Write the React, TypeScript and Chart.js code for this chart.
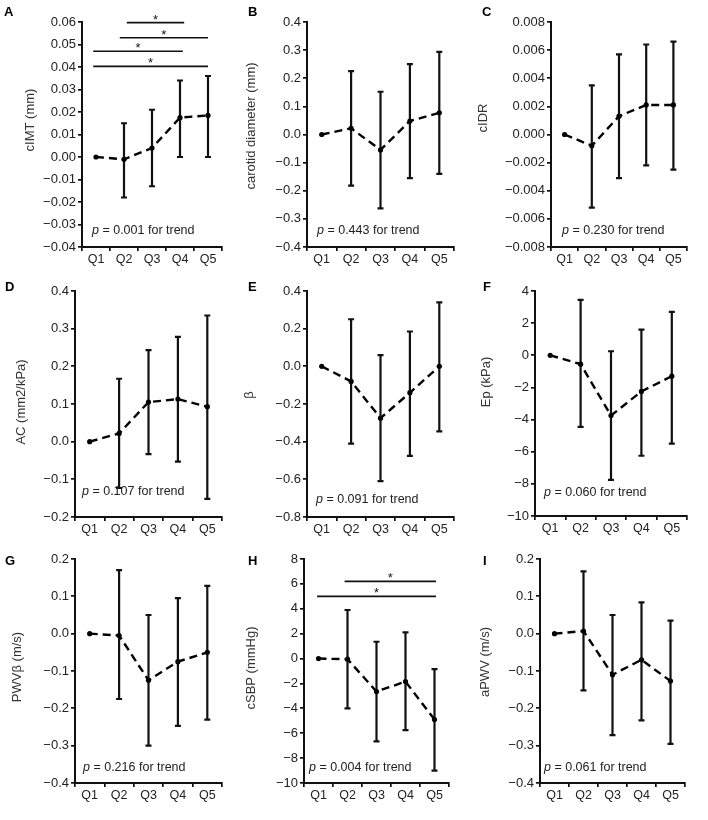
import React, { useEffect, useRef } from 'react';
import Chart from 'chart.js/auto';

const FONT = "'Liberation Sans', Arial, sans-serif";
const INK = '#111';
const TEXT = '#222';

const quintiles = ['Q1', 'Q2', 'Q3', 'Q4', 'Q5'];

// A - cIMT (mm)
const meanA = [0, -0.001, 0.004, 0.0175, 0.0185];
const lowA = [null, -0.018, -0.013, 0.0, 0.0];
const highA = [null, 0.015, 0.021, 0.034, 0.036];
const rangeA = [-0.04, 0.06, 0.01];
// significance bars: [from quintile, to quintile, height]
const sigA = [[1.1, 3.15, 0.0597], [0.85, 4.0, 0.053], [-0.1, 3.1, 0.047], [-0.1, 4.0, 0.0403]];

// B - carotid diameter (mm)
const meanB = [0, 0.022, -0.055, 0.048, 0.077];
const lowB = [null, -0.182, -0.263, -0.155, -0.14];
const highB = [null, 0.225, 0.152, 0.25, 0.294];
const rangeB = [-0.4, 0.4, 0.1];

// C - cIDR
const meanC = [0, -0.0008, 0.0013, 0.0021, 0.0021];
const lowC = [null, -0.0052, -0.0031, -0.0022, -0.0025];
const highC = [null, 0.0035, 0.0057, 0.0064, 0.0066];
const rangeC = [-0.008, 0.008, 0.002];

// D - AC (mm2/kPa)
const meanD = [0, 0.022, 0.105, 0.113, 0.093];
const lowD = [null, -0.123, -0.033, -0.053, -0.152];
const highD = [null, 0.167, 0.243, 0.278, 0.335];
const rangeD = [-0.2, 0.4, 0.1];

// E - beta
const meanE = [0, -0.08, -0.275, -0.14, 0.0];
const lowE = [null, -0.41, -0.61, -0.475, -0.345];
const highE = [null, 0.25, 0.06, 0.185, 0.34];
const rangeE = [-0.8, 0.4, 0.2];

// F - Ep (kPa)
const meanF = [0, -0.55, -3.75, -2.25, -1.3];
const lowF = [null, -4.45, -7.75, -6.25, -5.5];
const highF = [null, 3.45, 0.25, 1.6, 2.7];
const rangeF = [-10, 4, 2];

// G - PWV beta (m/s)
const meanG = [0, -0.005, -0.125, -0.075, -0.05];
const lowG = [null, -0.175, -0.3, -0.247, -0.23];
const highG = [null, 0.17, 0.05, 0.095, 0.128];
const rangeG = [-0.4, 0.2, 0.1];

// H - cSBP (mmHg)
const meanH = [0, -0.05, -2.65, -1.85, -4.9];
const lowH = [null, -4.0, -6.65, -5.75, -9.0];
const highH = [null, 3.9, 1.35, 2.1, -0.85];
const rangeH = [-10, 8, 2];
const sigH = [[0.9, 4.05, 6.2], [-0.05, 4.05, 5.0]];

// I - aPWV (m/s)
const meanI = [0, 0.007, -0.11, -0.07, -0.127];
const lowI = [null, -0.152, -0.272, -0.232, -0.295];
const highI = [null, 0.167, 0.05, 0.084, 0.035];
const rangeI = [-0.4, 0.2, 0.1];

const pValues = ['0.001', '0.443', '0.230', '0.107', '0.091', '0.060', '0.216', '0.004', '0.061'];

interface PanelCfg {
  letter: string;
  title: string;
  mean: number[];
  low: (number | null)[];
  high: (number | null)[];
  range: number[];
  decimals: number;
  p: string;
  sig?: number[][];
  box: { x: number; y: number; w: number; h: number };
  area: { left: number; top: number; right: number; bottom: number };
  titlePos: [number, number];
  letterPos: [number, number];
  pPos: [number, number];
}

const panels: PanelCfg[] = [
  { letter: 'A', title: 'cIMT (mm)', mean: meanA, low: lowA, high: highA, range: rangeA, decimals: 2, p: pValues[0], sig: sigA,
    box: { x: 0, y: 0, w: 236, h: 270 }, area: { left: 82, top: 22, right: 222, bottom: 247 },
    titlePos: [30, 120], letterPos: [4, 12], pPos: [10, 16] },
  { letter: 'B', title: 'carotid diameter (mm)', mean: meanB, low: lowB, high: highB, range: rangeB, decimals: 1, p: pValues[1],
    box: { x: 236, y: 0, w: 234, h: 270 }, area: { left: 71, top: 22, right: 218, bottom: 247 },
    titlePos: [15, 126], letterPos: [12, 12], pPos: [10, 16] },
  { letter: 'C', title: 'cIDR', mean: meanC, low: lowC, high: highC, range: rangeC, decimals: 3, p: pValues[2],
    box: { x: 470, y: 0, w: 238, h: 270 }, area: { left: 81, top: 22, right: 217, bottom: 247 },
    titlePos: [13, 118], letterPos: [12, 12], pPos: [11, 16] },
  { letter: 'D', title: 'AC (mm2/kPa)', mean: meanD, low: lowD, high: highD, range: rangeD, decimals: 1, p: pValues[3],
    box: { x: 0, y: 270, w: 236, h: 275 }, area: { left: 75, top: 21, right: 222, bottom: 247 },
    titlePos: [21, 132], letterPos: [5, 17], pPos: [7, 25] },
  { letter: 'E', title: 'β', mean: meanE, low: lowE, high: highE, range: rangeE, decimals: 1, p: pValues[4],
    box: { x: 236, y: 270, w: 234, h: 275 }, area: { left: 71, top: 21, right: 218, bottom: 247 },
    titlePos: [13, 125], letterPos: [12, 17], pPos: [9, 17] },
  { letter: 'F', title: 'Ep (kPa)', mean: meanF, low: lowF, high: highF, range: rangeF, decimals: 0, p: pValues[5],
    box: { x: 470, y: 270, w: 238, h: 275 }, area: { left: 65, top: 21, right: 217, bottom: 246 },
    titlePos: [16, 112], letterPos: [13, 17], pPos: [9, 23] },
  { letter: 'G', title: 'PWVβ (m/s)', mean: meanG, low: lowG, high: highG, range: rangeG, decimals: 1, p: pValues[6],
    box: { x: 0, y: 545, w: 236, h: 275 }, area: { left: 75, top: 14, right: 222, bottom: 238 },
    titlePos: [17, 122], letterPos: [5, 16], pPos: [8, 15] },
  { letter: 'H', title: 'cSBP (mmHg)', mean: meanH, low: lowH, high: highH, range: rangeH, decimals: 0, p: pValues[7], sig: sigH,
    box: { x: 236, y: 545, w: 234, h: 275 }, area: { left: 68, top: 14, right: 213, bottom: 238 },
    titlePos: [15, 123], letterPos: [12, 16], pPos: [5, 15] },
  { letter: 'I', title: 'aPWV (m/s)', mean: meanI, low: lowI, high: highI, range: rangeI, decimals: 1, p: pValues[8],
    box: { x: 470, y: 545, w: 238, h: 275 }, area: { left: 70, top: 14, right: 215, bottom: 238 },
    titlePos: [15, 117], letterPos: [13, 16], pPos: [4, 15] },
];

const fmt = (v: number, d: number) => (v < -1e-9 ? '\u2212' : '') + Math.abs(v).toFixed(d);

const XAXIS_H = 22;

const Panel: React.FC<{ cfg: PanelCfg }> = ({ cfg }) => {
  const canvasRef = useRef<HTMLCanvasElement>(null);

  useEffect(() => {
    if (!canvasRef.current) return;
    const { box, area } = cfg;

    // error bars, significance bars, labels
    const decor = {
      id: 'decor',
      beforeDatasetsDraw(chart: any) {
        const ctx = chart.ctx;
        const xs = chart.scales.x;
        const ys = chart.scales.y;
        ctx.save();
        ctx.strokeStyle = INK;
        ctx.lineWidth = 2.2;
        cfg.mean.forEach((_m, i) => {
          const lo = cfg.low[i];
          const hi = cfg.high[i];
          if (lo == null || hi == null) return;
          const x = xs.getPixelForValue(i);
          const y1 = ys.getPixelForValue(lo);
          const y2 = ys.getPixelForValue(hi);
          ctx.beginPath();
          ctx.moveTo(x, y1);
          ctx.lineTo(x, y2);
          ctx.moveTo(x - 3, y1);
          ctx.lineTo(x + 3, y1);
          ctx.moveTo(x - 3, y2);
          ctx.lineTo(x + 3, y2);
          ctx.stroke();
        });
        ctx.restore();
      },
      afterDatasetsDraw(chart: any) {
        const ctx = chart.ctx;
        const xs = chart.scales.x;
        const ys = chart.scales.y;
        const ca = chart.chartArea;
        // fractional category position, interpolated between two categories
        const x0 = xs.getPixelForValue(0);
        const step = xs.getPixelForValue(1) - x0;
        const xAt = (q: number) => x0 + q * step;
        ctx.save();
        // significance bars
        (cfg.sig || []).forEach(([a, b, v]) => {
          const x1 = xAt(a);
          const x2 = xAt(b);
          const y = ys.getPixelForValue(v);
          ctx.strokeStyle = INK;
          ctx.lineWidth = 1.7;
          ctx.beginPath();
          ctx.moveTo(x1, y);
          ctx.lineTo(x2, y);
          ctx.stroke();
          ctx.fillStyle = INK;
          ctx.font = `13px ${FONT}`;
          ctx.textAlign = 'center';
          ctx.textBaseline = 'alphabetic';
          ctx.fillText('*', (x1 + x2) / 2, y + 1);
        });
        // p for trend
        const px = ca.left + cfg.pPos[0];
        const py = ca.bottom - cfg.pPos[1];
        ctx.fillStyle = TEXT;
        ctx.textAlign = 'left';
        ctx.textBaseline = 'middle';
        ctx.font = `italic 12.5px ${FONT}`;
        ctx.fillText('p', px, py);
        const pw = ctx.measureText('p').width;
        ctx.font = `12.5px ${FONT}`;
        ctx.fillText(` = ${cfg.p} for trend`, px + pw, py);
        // y-axis title
        ctx.save();
        ctx.translate(cfg.titlePos[0], cfg.titlePos[1]);
        ctx.rotate(-Math.PI / 2);
        ctx.textAlign = 'center';
        ctx.textBaseline = 'middle';
        ctx.fillStyle = '#333';
        ctx.font = `13px ${FONT}`;
        ctx.fillText(cfg.title, 0, 0);
        ctx.restore();
        // panel letter
        ctx.fillStyle = '#000';
        ctx.font = `bold 13px ${FONT}`;
        ctx.textAlign = 'left';
        ctx.textBaseline = 'middle';
        ctx.fillText(cfg.letter, cfg.letterPos[0], cfg.letterPos[1]);
        ctx.restore();
      },
    };

    const chart = new Chart(canvasRef.current, {
      type: 'line',
      data: {
        labels: quintiles,
        datasets: [
          {
            data: cfg.mean,
            borderColor: '#000',
            borderWidth: 2.4,
            borderDash: [8, 5],
            pointRadius: 2.6,
            pointBackgroundColor: '#000',
            pointBorderWidth: 0,
            tension: 0,
          },
        ],
      },
      options: {
        animation: false,
        responsive: true,
        maintainAspectRatio: false,
        layout: {
          padding: {
            left: 0,
            top: area.top,
            right: box.w - area.right,
            bottom: box.h - area.bottom - XAXIS_H,
          },
        },
        plugins: { legend: { display: false }, tooltip: { enabled: false } },
        scales: {
          x: {
            type: 'category',
            offset: true,
            grid: { offset: true, drawOnChartArea: false, drawTicks: true, tickLength: 4, color: INK, lineWidth: 1.7 },
            border: { display: true, color: INK, width: 2 },
            ticks: { font: { family: FONT, size: 12.5 }, color: TEXT, padding: 1, maxRotation: 0, autoSkip: false },
            afterFit: (s: any) => {
              s.height = XAXIS_H;
            },
          },
          y: {
            min: cfg.range[0],
            max: cfg.range[1],
            grid: { drawOnChartArea: false, drawTicks: true, tickLength: 4, color: INK, lineWidth: 1.7 },
            border: { display: true, color: INK, width: 2 },
            ticks: {
              stepSize: cfg.range[2],
              autoSkip: false,
              font: { family: FONT, size: 13 },
              color: TEXT,
              padding: 2,
              callback: (v: any) => fmt(Number(v), cfg.decimals),
            },
            afterFit: (s: any) => {
              s.width = area.left;
            },
          },
        },
      },
      plugins: [decor],
    });

    return () => {
      chart.destroy();
    };
  }, [cfg]);

  return (
    <div style={{ position: 'absolute', left: cfg.box.x, top: cfg.box.y, width: cfg.box.w, height: cfg.box.h }}>
      <canvas ref={canvasRef} />
    </div>
  );
};

export default function App() {
  return (
    <div style={{ position: 'absolute', left: 0, top: 0, width: 708, height: 820, background: '#fff', overflow: 'hidden' }}>
      {panels.map((p) => (
        <Panel key={p.letter} cfg={p} />
      ))}
    </div>
  );
}
